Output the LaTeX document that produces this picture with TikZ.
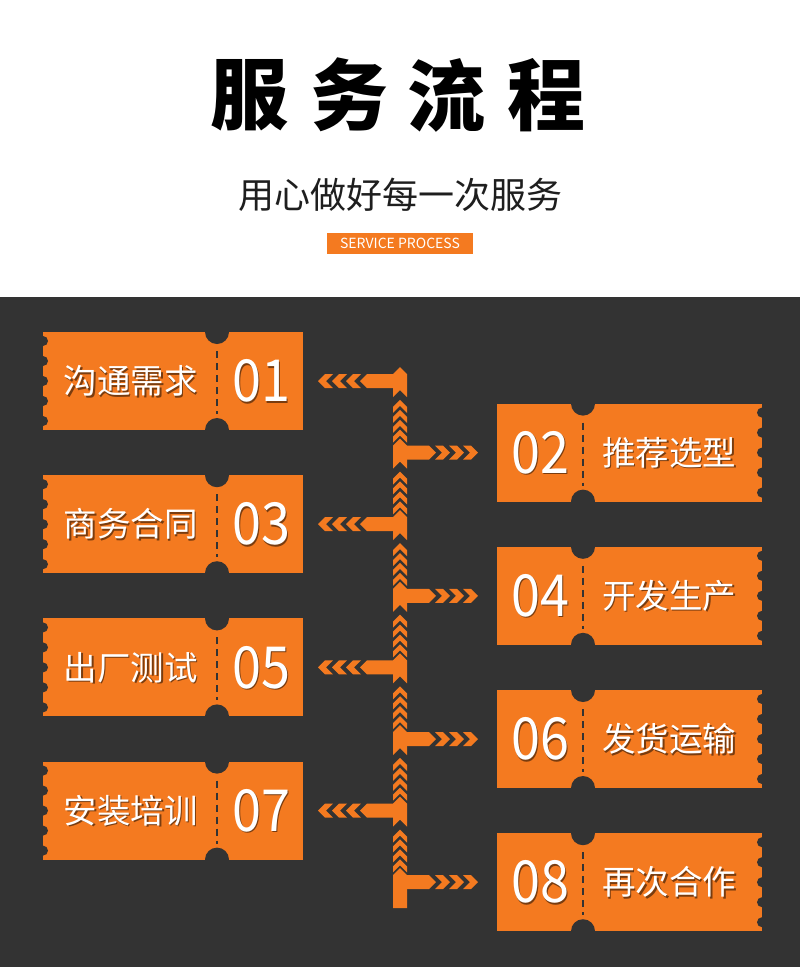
\documentclass[tikz,border=0pt]{standalone}
\usepackage{fontspec}
\setmainfont{Noto Sans CJK SC}
\definecolor{og}{HTML}{F47A20}
\definecolor{dk}{HTML}{333333}
\definecolor{tx}{HTML}{1E1E1E}
\begin{document}
\begin{tikzpicture}[x=1pt,y=-1pt,
  lbl/.style={inner sep=0pt,text=white,font=\fontsize{33.5}{33.5}\selectfont},
  lbls/.style={inner sep=0pt,text=black,opacity=0.5,font=\fontsize{33.5}{33.5}\selectfont},
  numb/.style={inner sep=0pt,text=white,font=\fontsize{58}{58}\selectfont},
  numbs/.style={inner sep=0pt,text=black,opacity=0.5,font=\fontsize{58}{58}\selectfont},
  ttl/.style={inner sep=0pt,text=black,font=\fontsize{78}{78}\selectfont\bfseries}]
\useasboundingbox (0,0) rectangle (800,967);
\fill[white] (0,0) rectangle (800,297);
\fill[dk] (0,297) rectangle (800,967);
% title
\foreach \c/\x [count=\i] in {服/249,务/349.5,流/446.5,程/546.5}
  \node[ttl] (t\i) at (\x,95) {\c};
\node[inner sep=0pt,text=tx,font=\fontsize{36}{36}\selectfont] (sub) at (400,195) {用心做好每一次服务};
\node[fill=og,inner sep=0pt,minimum width=146pt,minimum height=21pt,text=white,font=\fontsize{14}{14}\selectfont] (sp) at (400,243.5) {SERVICE PROCESS};
% tickets and spine
\foreach \lab/\num [count=\i from 0] in {沟通需求/01,推荐选型/02,商务合同/03,开发生产/04,出厂测试/05,发货运输/06,安装培训/07,再次合作/08}{
  \pgfmathsetmacro\yc{381+71.6*\i}
  \ifodd\i\relax
    % right ticket
    \fill[og] (497,\yc-49) rectangle (762,\yc+49);
    \fill[dk] (583,\yc-49) circle (12);
    \fill[dk] (583,\yc+49) circle (12);
    \foreach \j in {0,...,4} \fill[dk] (762,\yc-40+20*\j) circle (5);
    \draw[dk,line width=1.8pt,dash pattern=on 7pt off 5pt] (583,\yc-30) -- (583,\yc+33);
    \node[lbls] (labs\num) at (670.5,\yc+1.5) {\lab};
    \node[lbl] (lab\num) at (669,\yc) {\lab};
    \node[numbs] (nums\num) at (541.5,\yc+1.5) {\scalebox{0.9}[1]{\num}};
    \node[numb] (num\num) at (540,\yc) {\scalebox{0.9}[1]{\num}};
    % right bar + chevrons
    \fill[og] (400,\yc-7) -- (429,\yc-7) -- (436,\yc) -- (429,\yc+7) -- (400,\yc+7) -- cycle;
    \foreach \j in {1,2,3}{
      \pgfmathsetmacro\tx{436+14*\j}
      \fill[og] (\tx,\yc) -- (\tx-7,\yc-7) -- (\tx-15,\yc-7) -- (\tx-8,\yc) -- (\tx-15,\yc+7) -- (\tx-7,\yc+7) -- cycle;
    }
  \else
    % left ticket
    \fill[og] (43,\yc-49) rectangle (303,\yc+49);
    \fill[dk] (217,\yc-49) circle (12);
    \fill[dk] (217,\yc+49) circle (12);
    \foreach \j in {0,...,4} \fill[dk] (43,\yc-40+20*\j) circle (5);
    \draw[dk,line width=1.8pt,dash pattern=on 7pt off 5pt] (217,\yc-30) -- (217,\yc+33);
    \node[lbls] (labs\num) at (132,\yc+1.5) {\lab};
    \node[lbl] (lab\num) at (130.5,\yc) {\lab};
    \node[numbs] (nums\num) at (262.5,\yc+1.5) {\scalebox{0.9}[1]{\num}};
    \node[numb] (num\num) at (261,\yc) {\scalebox{0.9}[1]{\num}};
    % left bar + chevrons
    \fill[og] (400,\yc-7) -- (367,\yc-7) -- (360,\yc) -- (367,\yc+7) -- (400,\yc+7) -- cycle;
    \foreach \j in {1,2,3}{
      \pgfmathsetmacro\tx{360-14*\j}
      \fill[og] (\tx,\yc) -- (\tx+7,\yc-7) -- (\tx+15,\yc-7) -- (\tx+8,\yc) -- (\tx+15,\yc+7) -- (\tx+7,\yc+7) -- cycle;
    }
  \fi
  % vertical piece
  \ifnum\i<7\relax
    \fill[og] (400,\yc-14) -- (407,\yc-7) -- (407,\yc+16) -- (400,\yc+9) -- (393,\yc+16) -- (393,\yc-7) -- cycle;
    \foreach \j in {1,...,4}{
      \pgfmathsetmacro\ty{\yc+9+9.92*\j}
      \fill[og] (400,\ty) -- (407,\ty+7) -- (407,\ty+13) -- (400,\ty+6) -- (393,\ty+13) -- (393,\ty+7) -- cycle;
    }
  \else
    \fill[og] (400,\yc-14) -- (407,\yc-7) -- (407,\yc+26) -- (393,\yc+26) -- (393,\yc-7) -- cycle;
  \fi
}
\end{tikzpicture}
\end{document}
